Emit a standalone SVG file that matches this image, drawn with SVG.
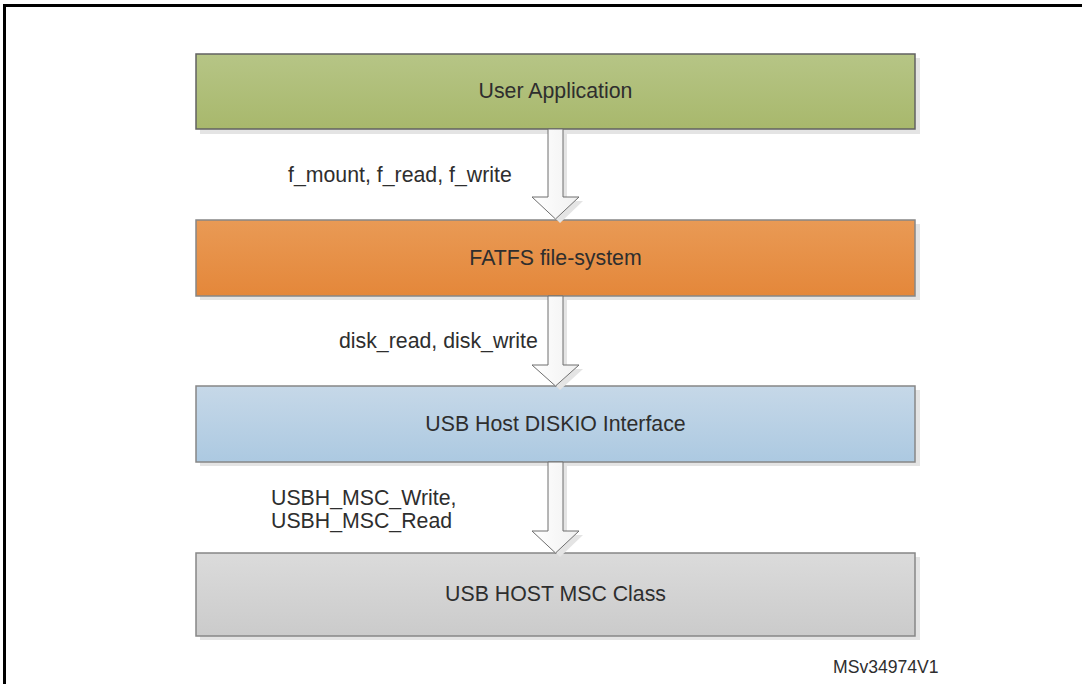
<svg xmlns="http://www.w3.org/2000/svg" width="1082" height="684" viewBox="0 0 1082 684">
  <style>
    text { font-family: "Liberation Sans", Arial, sans-serif; font-size: 21.3px; fill: #2e2e2e; }
    .box { stroke-width: 1.5; }
    .shadow { fill: #e4e4e4; }
    .arrow { fill: url(#gArrow); stroke: #6e6e6e; stroke-width: 1; }
    .lbl { text-anchor: start; }
    .mid { text-anchor: middle; }
  </style>
  <defs>
    <linearGradient id="gGreen" x1="0" y1="0" x2="0" y2="1">
      <stop offset="0" stop-color="#b6c586"/>
      <stop offset="1" stop-color="#a8b86c"/>
    </linearGradient>
    <linearGradient id="gOrange" x1="0" y1="0" x2="0" y2="1">
      <stop offset="0" stop-color="#e99a55"/>
      <stop offset="1" stop-color="#e4873a"/>
    </linearGradient>
    <linearGradient id="gBlue" x1="0" y1="0" x2="0" y2="1">
      <stop offset="0" stop-color="#c6d8e8"/>
      <stop offset="1" stop-color="#acc9e1"/>
    </linearGradient>
    <linearGradient id="gGray" x1="0" y1="0" x2="0" y2="1">
      <stop offset="0" stop-color="#dbdbdb"/>
      <stop offset="1" stop-color="#cbcbcb"/>
    </linearGradient>
    <linearGradient id="gArrow" x1="0" y1="0" x2="1" y2="0">
      <stop offset="0" stop-color="#ffffff"/>
      <stop offset="1" stop-color="#f0f0f0"/>
    </linearGradient>
  </defs>

  <rect width="1082" height="684" fill="#ffffff"/>

  <!-- page frame -->
  <path d="M4.5,684 L4.5,5.5 L1082,5.5" fill="none" stroke="#000000" stroke-width="3"/>

  <!-- layers -->
  <g id="user-application">
    <rect class="shadow" x="200" y="58" width="720" height="76"/>
    <rect class="box" x="196" y="54" width="719" height="75" fill="url(#gGreen)" stroke="#626262"/>
    <text class="mid" x="555.5" y="98">User Application</text>
  </g>

  <g id="fatfs">
    <rect class="shadow" x="200" y="224" width="720" height="76"/>
    <rect class="box" x="196" y="220" width="719" height="76" fill="url(#gOrange)" stroke="#878787"/>
    <text class="mid" x="555.5" y="265">FATFS file-system</text>
  </g>

  <g id="diskio">
    <rect class="shadow" x="200" y="390" width="720" height="76"/>
    <rect class="box" x="196" y="386" width="719" height="76" fill="url(#gBlue)" stroke="#878787"/>
    <text class="mid" x="555.5" y="431">USB Host DISKIO Interface</text>
  </g>

  <g id="msc-class">
    <rect class="shadow" x="200" y="557" width="720" height="83"/>
    <rect class="box" x="196" y="553" width="719" height="83" fill="url(#gGray)" stroke="#878787"/>
    <text class="mid" x="555.5" y="601">USB HOST MSC Class</text>
  </g>

  <!-- call arrows between layers -->
  <g id="connectors">
    <path class="shadow" d="M563,133 L567,133 L567,201 L583,201 L560,223 L556,219 L579,197 L563,197 Z"/>
    <path class="arrow" d="M548,129 L563,129 L563,197 L579,197 L555.5,219 L532,197 L548,197 Z"/>

    <path class="shadow" d="M563,300 L567,300 L567,369 L583,369 L560,390 L556,386 L579,365 L563,365 Z"/>
    <path class="arrow" d="M548,296 L563,296 L563,365 L579,365 L555.5,386 L532,365 L548,365 Z"/>

    <path class="shadow" d="M563,466 L567,466 L567,535 L583,535 L560,557 L556,553 L579,531 L563,531 Z"/>
    <path class="arrow" d="M548,462 L563,462 L563,531 L579,531 L555.5,553 L532,531 L548,531 Z"/>

    <text class="lbl" x="288" y="182">f_mount, f_read, f_write</text>
    <text class="lbl" x="339" y="348">disk_read, disk_write</text>
    <text class="lbl" x="271" y="505">USBH_MSC_Write,</text>
    <text class="lbl" x="271" y="528">USBH_MSC_Read</text>
  </g>

  <text x="833" y="673" style="font-size:17.6px">MSv34974V1</text>
</svg>
